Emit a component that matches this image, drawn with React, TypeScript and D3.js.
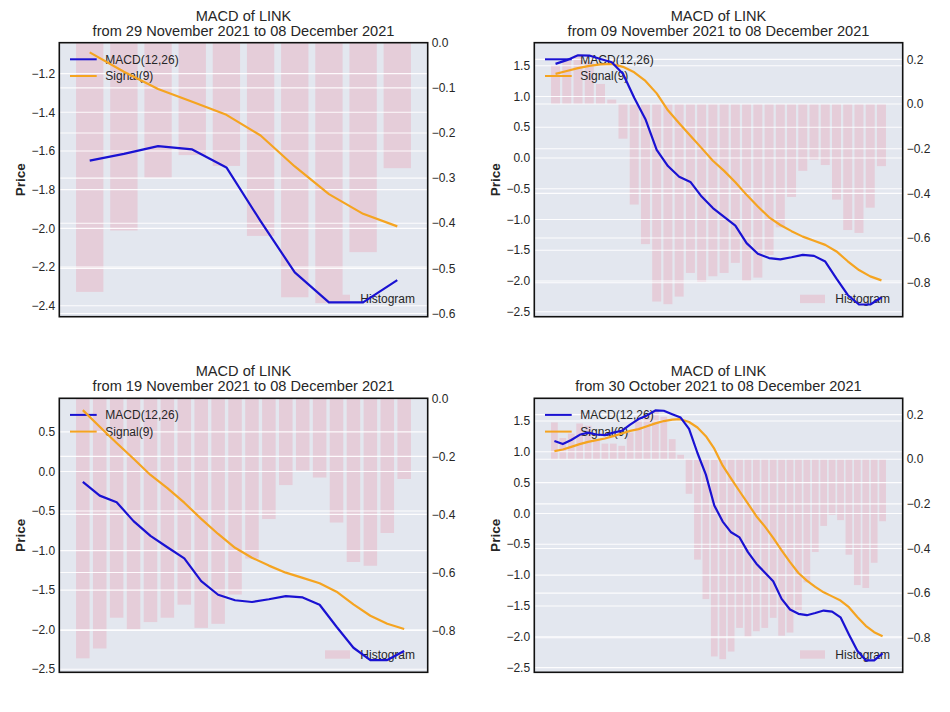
import * as d3 from "d3";

// one daily series, 30 Oct 2021 .. 08 Dec 2021 (40 days); each panel shows the tail
const macd = [
  1.175, 1.125, 1.19, 1.275, 1.31, 1.28, 1.27, 1.31, 1.34, 1.44,
  1.53, 1.59, 1.67, 1.665, 1.61, 1.555, 1.37, 0.98, 0.63, 0.13,
  -0.132, -0.306, -0.389, -0.628, -0.815, -0.958, -1.099, -1.385, -1.558, -1.628,
  -1.65, -1.615, -1.575, -1.592, -1.685, -1.963, -2.228, -2.383, -2.383, -2.268,
];
const signal = [
  1.01, 1.037, 1.08, 1.124, 1.161, 1.188, 1.215, 1.253, 1.296, 1.338,
  1.367, 1.414, 1.46, 1.498, 1.522, 1.528, 1.482, 1.393, 1.252, 1.05,
  0.775, 0.565, 0.36, 0.16, -0.045, -0.21, -0.395, -0.6, -0.79, -0.965,
  -1.09, -1.19, -1.279, -1.345, -1.413, -1.52, -1.68, -1.823, -1.925, -1.99,
];
const hist = [
  0.165, 0.095, 0.115, 0.16, 0.15, 0.09, 0.07, 0.07, 0.06, 0.12,
  0.175, 0.195, 0.22, 0.19, 0.09, 0.02, -0.155, -0.45, -0.627, -0.884,
  -0.896, -0.862, -0.756, -0.797, -0.771, -0.756, -0.711, -0.791, -0.777, -0.676,
  -0.552, -0.416, -0.299, -0.249, -0.273, -0.428, -0.564, -0.577, -0.464, -0.278,
];

// panels: top-left, top-right, bottom-left, bottom-right
const panelDays = [10, 30, 20, 40];
const panelFrom = ["29 November 2021", "09 November 2021", "19 November 2021", "30 October 2021"];
const endDate = "08 December 2021";
const leftLimits = [
  [-2.457, -1.04],
  [-2.581, 1.874],
  [-2.538, 0.924],
  [-2.576, 1.867],
];
const rightLimits = [
  [-0.607, 0],
  [-0.952, 0.2746],
  [-0.944, 0],
  [-0.955, 0.273],
];
const leftTicks = [
  [-2.4, -2.2, -2.0, -1.8, -1.6, -1.4, -1.2],
  [-2.5, -2.0, -1.5, -1.0, -0.5, 0.0, 0.5, 1.0, 1.5],
  [-2.5, -2.0, -1.5, -1.0, -0.5, 0.0, 0.5],
  [-2.5, -2.0, -1.5, -1.0, -0.5, 0.0, 0.5, 1.0, 1.5],
];
const rightTicks = [
  [-0.6, -0.5, -0.4, -0.3, -0.2, -0.1, 0.0],
  [-0.8, -0.6, -0.4, -0.2, 0.0, 0.2],
  [-0.8, -0.6, -0.4, -0.2, 0.0],
  [-0.8, -0.6, -0.4, -0.2, 0.0, 0.2],
];

const W = 950;
const H = 712;
const boxW = 368.4;
const boxH = 274;
const origins = [
  [59.3, 42.7],
  [534.3, 42.7],
  [59.3, 398.3],
  [534.3, 398.3],
];

const FONT = "'Liberation Sans', Arial, sans-serif";
const TEXT = "#262626";
const BG = "#e3e7ef";
const BAR = "#e5cdd9";
const BLUE = "#1a12d2";
const ORANGE = "#f5a420";

const fmt = (d: number) => {
  const s = Math.abs(d) < 1e-9 ? "0.0" : d.toFixed(1);
  return s.replace("-", "\u2212");
};

function Panel({ k }: { k: number }) {
  const n = panelDays[k];
  const start = macd.length - n;
  const m = macd.slice(start);
  const s = signal.slice(start);
  const h = hist.slice(start);
  const [x0, y0] = origins[k];

  // matplotlib-style x limits: bars of width 0.8 plus 5% margin
  const lo = -0.4;
  const hi = n - 1 + 0.4;
  const pad = 0.05 * (hi - lo);
  const x = d3.scaleLinear().domain([lo - pad, hi + pad]).range([x0, x0 + boxW]);
  const yL = d3.scaleLinear().domain(leftLimits[k]).range([y0 + boxH, y0]);
  const yR = d3.scaleLinear().domain(rightLimits[k]).range([y0 + boxH, y0]);
  const bw = x(0.8) - x(0);

  const line = d3
    .line<number>()
    .x((_, i) => x(i))
    .y((d) => yL(d));

  const cx = x0 + boxW / 2;
  const clipId = `clip${k}`;

  return (
    <g>
      <defs>
        <clipPath id={clipId}>
          <rect x={x0} y={y0} width={boxW} height={boxH} />
        </clipPath>
      </defs>
      <text x={cx} y={y0 - 22.2} textAnchor="middle" fontSize={14.6} fill={TEXT}>
        MACD of LINK
      </text>
      <text x={cx} y={y0 - 7.2} textAnchor="middle" fontSize={14.6} fill={TEXT}>
        {`from ${panelFrom[k]} to ${endDate}`}
      </text>

      <rect x={x0} y={y0} width={boxW} height={boxH} fill={BG} />

      <g clipPath={`url(#${clipId})`}>
        {h.map((v, i) => (
          <rect
            key={i}
            x={x(i) - bw / 2}
            y={Math.min(yR(v), yR(0))}
            width={bw}
            height={Math.abs(yR(v) - yR(0))}
            fill={BAR}
          />
        ))}
        {leftTicks[k].map((t) => (
          <line key={`l${t}`} x1={x0} x2={x0 + boxW} y1={yL(t)} y2={yL(t)} stroke="#fff" strokeWidth={1.1} opacity={0.9} />
        ))}
        {rightTicks[k].map((t) => (
          <line key={`r${t}`} x1={x0} x2={x0 + boxW} y1={yR(t)} y2={yR(t)} stroke="#fff" strokeWidth={1.1} opacity={0.9} />
        ))}
      </g>

      {/* legends */}
      <g fontSize={12} fill={TEXT}>
        <line x1={x0 + 10.7} x2={x0 + 37.4} y1={y0 + 16.6} y2={y0 + 16.6} stroke={BLUE} strokeWidth={2} />
        <text x={x0 + 46} y={y0 + 16.6} dy="0.35em">MACD(12,26)</text>
        <line x1={x0 + 10.7} x2={x0 + 37.4} y1={y0 + 33.3} y2={y0 + 33.3} stroke={ORANGE} strokeWidth={2} />
        <text x={x0 + 46} y={y0 + 33.3} dy="0.35em">Signal(9)</text>
        <rect x={x0 + boxW - 102.7} y={y0 + boxH - 22} width={25} height={8.4} fill={BAR} />
        <text x={x0 + boxW - 12.7} y={y0 + boxH - 17.7} dy="0.35em" textAnchor="end">Histogram</text>
      </g>

      <g clipPath={`url(#${clipId})`}>
        <path d={line(s) ?? ""} fill="none" stroke={ORANGE} strokeWidth={2.2} strokeLinejoin="round" />
        <path d={line(m) ?? ""} fill="none" stroke={BLUE} strokeWidth={2.2} strokeLinejoin="round" />
      </g>

      <rect x={x0} y={y0} width={boxW} height={boxH} fill="none" stroke="#111" strokeWidth={1.6} />

      {/* left and right axes */}
      <g fontSize={12} fill={TEXT}>
        {leftTicks[k].map((t) => (
          <text key={t} x={x0 - 4.2} y={yL(t)} dy="0.35em" textAnchor="end">
            {fmt(t)}
          </text>
        ))}
        {rightTicks[k].map((t) => (
          <text key={t} x={x0 + boxW + 4} y={yR(t)} dy="0.35em" textAnchor="start">
            {fmt(t)}
          </text>
        ))}
      </g>
      <text
        transform={`translate(${x0 - 34.3},${y0 + boxH / 2}) rotate(-90)`}
        textAnchor="middle"
        fontSize={13.6}
        fontWeight="bold"
        fill={TEXT}
      >
        Price
      </text>
    </g>
  );
}

export default function App() {
  return (
    <svg
      width={W}
      height={H}
      style={{ position: "absolute", left: 0, top: 0, background: "#fff", fontFamily: FONT }}
    >
      {panelDays.map((_, k) => (
        <Panel key={k} k={k} />
      ))}
    </svg>
  );
}
